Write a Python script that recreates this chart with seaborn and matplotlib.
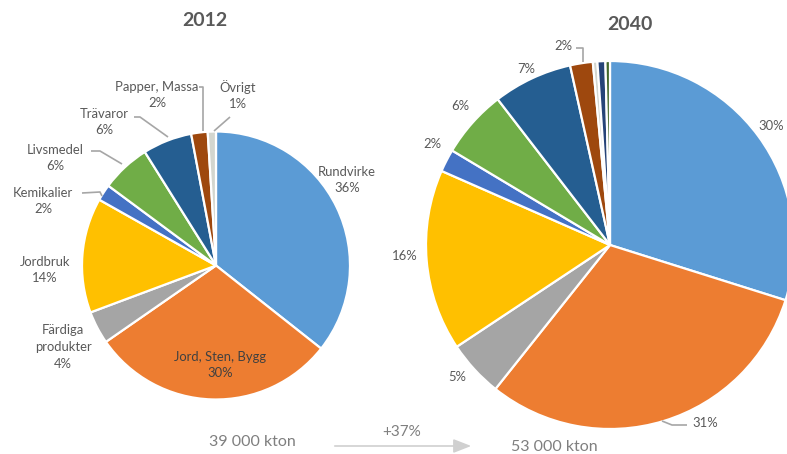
import matplotlib
matplotlib.use("Agg")
import matplotlib.pyplot as plt
import seaborn as sns

# Goods flow by commodity group, share of tonnage
groups_2012 = ["Rundvirke", "Jord, Sten, Bygg", "Färdiga produkter", "Jordbruk",
               "Kemikalier", "Livsmedel", "Trävaror", "Papper, Massa", "Övrigt"]
shares_2012 = [36, 30, 4, 14, 2, 6, 6, 2, 1]

groups_2040 = ["Rundvirke", "Jord, Sten, Bygg", "Färdiga produkter", "Jordbruk",
               "Kemikalier", "Livsmedel", "Trävaror", "Papper, Massa",
               "Övrigt a", "Övrigt b", "Övrigt c"]
shares_2040 = [30, 31, 5, 16, 2, 6, 7, 2, 0.4, 0.7, 0.4]

years = ["2012", "2040"]
totals = ["39 000 kton", "53 000 kton"]
growth = "+37%"

palette = sns.color_palette(["#5B9BD5", "#ED7D31", "#A5A5A5", "#FFC000", "#4472C4",
                             "#70AD47", "#255E91", "#9E480E", "#D3D6CF", "#264478",
                             "#43682B"])

sns.set_theme(style="white")
plt.rcParams["font.family"] = ["Lato", "DejaVu Sans"]

W, H = 787, 454
fig = plt.figure(figsize=(W / 100, H / 100), dpi=100)
ax = fig.add_axes([0, 0, 1, 1])

TXT = "#595959"
LINE = "#A6A6A6"


def Y(y):
    return H - y


wedge_style = dict(edgecolor="white", linewidth=1.6)

# left pie (2012)
ax.pie(shares_2012, colors=palette[:len(shares_2012)], startangle=90,
       counterclock=False, center=(216, Y(265.5)), radius=134,
       wedgeprops=wedge_style, frame=True)
# right pie (2040)
ax.pie(shares_2040, colors=palette[:len(shares_2040)], startangle=90,
       counterclock=False, center=(610, Y(245)), radius=184,
       wedgeprops=wedge_style, frame=True)

ax.set_xlim(0, W)
ax.set_ylim(0, H)
ax.set_aspect("equal")
ax.axis("off")

# titles
ax.text(205, Y(20), years[0], ha="center", va="center", fontsize=14,
        fontweight="bold", color=TXT)
ax.text(630, Y(24), years[1], ha="center", va="center", fontsize=14,
        fontweight="bold", color=TXT)

fs = 9.4


def lab(x, y, s, color=TXT):
    ax.text(x, Y(y), s, ha="center", va="center", fontsize=fs, color=color,
            linespacing=1.45)


def leader(xs, ys):
    ax.plot(xs, [Y(v) for v in ys], color=LINE, lw=1.2, solid_capstyle="butt")


# 2012 labels
pct12 = [f"{v:.0f}%" for v in shares_2012]
lab(347, 180, f"{groups_2012[0]}\n{pct12[0]}")
lab(220, 365, f"{groups_2012[1]}\n{pct12[1]}", color="#404040")
lab(63, 347, f"Färdiga\nprodukter\n{pct12[2]}")
lab(45, 270, f"{groups_2012[3]}\n{pct12[3]}")
lab(43, 201, f"{groups_2012[4]}\n{pct12[4]}")
lab(55, 158, f"{groups_2012[5]}\n{pct12[5]}")
lab(104, 122, f"{groups_2012[6]}\n{pct12[6]}")
lab(157, 95, f"{groups_2012[7]}\n{pct12[7]}")
lab(238, 95, f"{groups_2012[8]}\n{pct12[8]}")

leader([199, 203, 203], [87, 87, 131])
leader([214, 230], [131, 117])
leader([134, 140, 168], [117, 117, 137])
leader([91, 100, 122], [151, 151, 164])
leader([82, 100, 102], [193, 192, 196])

# 2040 labels
pct40 = [f"{v:.0f}%" for v in shares_2040]
lab(771, 126, pct40[0])
lab(705, 423, pct40[1])
lab(457, 377, pct40[2])
lab(405, 256, pct40[3])
lab(432, 144, pct40[4])
lab(460, 106, pct40[5])
lab(526, 69, pct40[6])
lab(563, 46, pct40[7])

leader([576, 583, 583], [48, 48, 62])
leader([662, 672, 687], [421, 425, 425])

# totals and growth arrow
ax.text(252, Y(442), totals[0], ha="center", va="center", fontsize=11.5,
        color="#7F7F7F")
ax.text(554, Y(447), totals[1], ha="center", va="center", fontsize=11.5,
        color="#7F7F7F")
ax.text(402, Y(432), growth, ha="center", va="center", fontsize=11,
        color="#7F7F7F")
ax.annotate("", xy=(474, Y(446)), xytext=(332, Y(446)),
            arrowprops=dict(arrowstyle="-|>,head_length=0.9,head_width=0.35",
                            color="#D0D0D0", lw=1.2))

fig.savefig("out.png", dpi=100, facecolor="white")
